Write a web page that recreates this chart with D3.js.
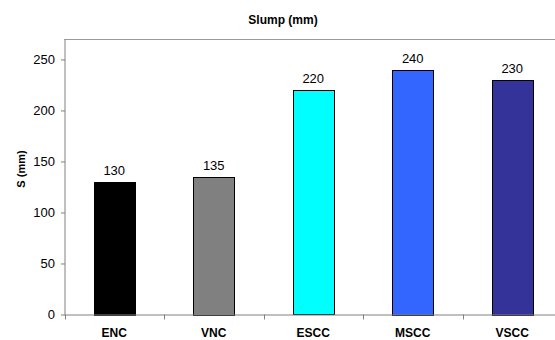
<!DOCTYPE html>
<html>
<head>
<meta charset="utf-8">
<script src="https://cdn.jsdelivr.net/npm/d3@7"></script>
<style>
  body { margin: 0; background: #fff; }
  text { font-family: "Liberation Sans", Arial, sans-serif; }
</style>
</head>
<body>
<div id="chart"></div>
<script>
// data
var categories = ["ENC", "VNC", "ESCC", "MSCC", "VSCC"];
var slump = [130, 135, 220, 240, 230];
var barColors = ["#000000", "#808080", "#00FFFF", "#3366FF", "#333399"];
var yTicks = [0, 50, 100, 150, 200, 250];

var W = 555, H = 340;
var plotLeft = 64.5, plotTop = 39, plotBottom = 314.5;
var plotRight = 562; // plot area runs past the picture edge

var svg = d3.select("#chart").append("svg")
  .attr("width", W).attr("height", H);

var x = d3.scaleBand().domain(categories).range([plotLeft, plotRight]).paddingInner(0).paddingOuter(0);
var y = d3.scaleLinear().domain([0, 270]).range([plotBottom, plotTop]);

// frame top line
svg.append("line")
  .attr("x1", plotLeft).attr("x2", W).attr("y1", plotTop + 0.5).attr("y2", plotTop + 0.5)
  .attr("stroke", "#9a9a9a").attr("stroke-width", 1);

// bars
var bw = x.bandwidth() * 0.41;
svg.selectAll("rect.bar")
  .data(slump)
  .enter().append("rect")
  .attr("class", "bar")
  .attr("x", function (d, i) { return Math.round(x(categories[i]) + (x.bandwidth() - bw) / 2) + 0.5; })
  .attr("y", function (d) { return Math.round(y(d)) + 0.5; })
  .attr("width", Math.round(bw))
  .attr("height", function (d) { return Math.round(plotBottom - y(d)); })
  .attr("fill", function (d, i) { return barColors[i]; })
  .attr("stroke", "#000").attr("stroke-width", 1);

// value labels
svg.selectAll("text.val")
  .data(slump)
  .enter().append("text")
  .attr("class", "val")
  .attr("x", function (d, i) { return x(categories[i]) + x.bandwidth() / 2; })
  .attr("y", function (d) { return y(d) - 7; })
  .attr("text-anchor", "middle")
  .style("font-size", "13px")
  .text(function (d) { return d; });

// y axis
var yAxis = d3.axisLeft(y).tickValues(yTicks).tickSize(4).tickPadding(6).tickSizeOuter(0);
var gy = svg.append("g").attr("transform", "translate(" + (plotLeft + 0.5) + ",0)").call(yAxis);
gy.select(".domain").attr("stroke", "#808080").attr("d", "M0," + plotTop + "V" + plotBottom);
gy.selectAll(".tick line").attr("stroke", "#808080");
gy.selectAll(".tick text").style("font-size", "13px").attr("fill", "#000")
  .style("font-family", "'Liberation Sans', Arial, sans-serif");

// x axis
svg.append("line")
  .attr("x1", plotLeft).attr("x2", W).attr("y1", plotBottom + 0.5).attr("y2", plotBottom + 0.5)
  .attr("stroke", "#808080");
svg.selectAll("line.xtick")
  .data(categories)
  .enter().append("line")
  .attr("class", "xtick")
  .attr("x1", function (d) { return Math.round(x(d)) + 0.5; })
  .attr("x2", function (d) { return Math.round(x(d)) + 0.5; })
  .attr("y1", plotBottom).attr("y2", plotBottom + 5)
  .attr("stroke", "#808080");
svg.selectAll("text.cat")
  .data(categories)
  .enter().append("text")
  .attr("class", "cat")
  .attr("x", function (d) { return x(d) + x.bandwidth() / 2; })
  .attr("y", 336.5)
  .attr("text-anchor", "middle")
  .style("font-size", "12px").style("font-weight", "bold")
  .text(function (d) { return d; });

// titles
svg.append("text")
  .attr("x", 283).attr("y", 24)
  .attr("text-anchor", "middle")
  .style("font-size", "12px").style("font-weight", "bold")
  .text("Slump (mm)");

svg.append("text")
  .attr("transform", "translate(25,169) rotate(-90)")
  .attr("text-anchor", "middle")
  .style("font-size", "11px").style("font-weight", "bold")
  .text("S (mm)");
</script>
</body>
</html>
